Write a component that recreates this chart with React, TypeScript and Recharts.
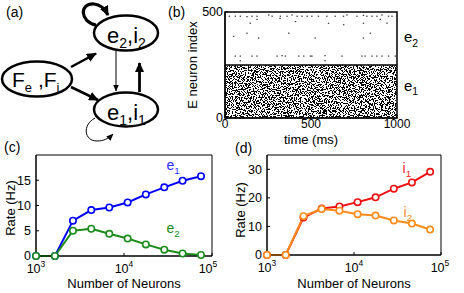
import { LineChart, Line, XAxis, YAxis, ScatterChart, Scatter, ReferenceArea, ReferenceLine } from "recharts";

// network size sweep (log x)
const NEURONS = [1000, 1640, 2630, 4250, 6800, 11000, 17700, 28700, 46300, 75000];
const RATE_E1 = [0, 0, 7.0, 9.1, 9.6, 10.6, 12.2, 13.6, 14.9, 15.8];
const RATE_E2 = [0, 0, 5.0, 5.4, 4.4, 3.45, 2.3, 1.25, 0.5, 0.2];
const RATE_I1 = [0, 0, 13.1, 16.3, 17.0, 18.5, 20.2, 23.2, 25.4, 29.1];
const RATE_I2 = [0, 0, 13.6, 16.1, 15.5, 14.3, 13.8, 12.1, 11.0, 8.9];
const LOG_TICKS = [1000, 10000, 100000];

// sparse spikes of the e2 population (time ms, neuron index)
const SPIKE_T = [
  25, 60, 89, 128, 157, 186, 254, 274, 322, 361, 390, 419, 448, 478, 505, 543, 592, 641, 689, 709,
  767, 805, 825, 854, 883, 913, 951, 971, 998,
  147, 186, 410, 128, 50, 196, 371, 602, 805, 903, 942, 845, 524, 805, 690, 320,
  60, 89, 157, 186, 303, 332, 351, 429, 458, 497, 505, 582, 680, 796, 815, 854, 883, 913, 951, 990,
  89, 582,
];
const SPIKE_N = [
  480, 480, 480, 478, 480, 480, 486, 480, 480, 480, 486, 480, 480, 480, 480, 480, 480, 480, 480, 486,
  480, 484, 480, 480, 480, 486, 480, 480, 480,
  447, 465, 455, 400, 385, 377, 400, 447, 447, 465, 447, 400, 377, 377, 440, 470,
  292, 292, 292, 292, 292, 294, 292, 292, 292, 292, 292, 294, 292, 292, 292, 292, 292, 292, 292, 292,
  270, 270,
];
const E1_TOP = 250;

const FONT = "'Liberation Sans', Arial, sans-serif";

const spikes = SPIKE_T.map((t, i) => ({ t, n: SPIKE_N[i] }));
const rowsC = NEURONS.map((n, i) => ({ n, e1: RATE_E1[i], e2: RATE_E2[i] }));
const rowsD = NEURONS.map((n, i) => ({ n, i1: RATE_I1[i], i2: RATE_I2[i] }));

function PowerTick(props: any) {
  const { x, y, payload } = props;
  const exp = Math.round(Math.log10(payload.value));
  return (
    <text x={x} y={y + 12} textAnchor="middle" fontSize={12.5} fill="#000" fontFamily={FONT}>
      <tspan>10</tspan>
      <tspan dy={-6} fontSize={8.5}>{exp}</tspan>
    </text>
  );
}

const SpikeDot = (p: any) => <rect x={p.cx - 0.7} y={p.cy - 0.6} width={1.4} height={1.2} fill="#333" />;
const NoiseRect = (p: any) => (
  <rect x={p.x} y={p.y} width={p.width} height={p.height} fill="#000" filter="url(#rasterNoise)" />
);

const dotStyle = (c: string) => ({ r: 3.2, stroke: c, strokeWidth: 1.6, fill: "#fff", clipDot: false });
const tickStyle = { fill: "#000", fontSize: 12.5, fontFamily: FONT };

function Sub({ x, y, base, sub, size, color = "#000" }: any) {
  return (
    <text x={x} y={y} fontSize={size} fill={color} fontFamily={FONT}>
      {base}
      <tspan dy={size * 0.3} fontSize={size * 0.7}>{sub}</tspan>
    </text>
  );
}

export default function App() {
  return (
    <div style={{ position: "absolute", left: 0, top: 0, width: 464, height: 293, background: "#fff", fontFamily: FONT }}>
      <svg width={0} height={0} style={{ position: "absolute" }}>
        <defs>
          <filter id="rasterNoise" x="0" y="0" width="1" height="1">
            <feTurbulence type="fractalNoise" baseFrequency="0.85" numOctaves={2} seed={7} />
            <feColorMatrix type="matrix" values="0 0 0 0 0  0 0 0 0 0  0 0 0 0 0  1 0 0 0 -0.02" />
            <feComponentTransfer>
              <feFuncA type="discrete" tableValues="0 1" />
            </feComponentTransfer>
          </filter>
        </defs>
      </svg>

      {/* (b) raster */}
      <div style={{ position: "absolute", left: 178, top: 0 }}>
        <ScatterChart width={244} height={150} margin={{ top: 12, right: 25, bottom: 0, left: 0 }}>
          <XAxis type="number" dataKey="t" domain={[0, 1000]} ticks={[0, 500, 1000]} height={32}
            tickSize={-3} tickMargin={4} stroke="#000" tick={{ ...tickStyle, fontSize: 12 }} />
          <YAxis type="number" dataKey="n" domain={[0, 500]} ticks={[0, 500]} width={47}
            tickSize={-3} tickMargin={5} stroke="#000" tick={tickStyle} />
          <ReferenceArea x1={0} x2={1000} y1={0} y2={E1_TOP} shape={NoiseRect} />
          <ReferenceLine y={E1_TOP} stroke="#000" strokeWidth={1.5} />
          <Scatter data={spikes} shape={SpikeDot} isAnimationActive={false} />
          <ReferenceArea x1={0} x2={1000} y1={0} y2={500} fill="none" stroke="#000" strokeWidth={1.5} />
        </ScatterChart>
      </div>

      {/* (c) excitatory rates */}
      <div style={{ position: "absolute", left: 0, top: 150 }}>
        <LineChart width={232} height={143} data={rowsC} margin={{ top: 5, right: 20, bottom: 0, left: 0 }}>
          <XAxis type="number" dataKey="n" scale="log" domain={[1000, 100000]} ticks={LOG_TICKS} height={37}
            tickSize={-3} tickMargin={8} stroke="#000" tick={<PowerTick />} />
          <YAxis domain={[0, 20]} ticks={[0, 5, 10, 15]} width={36} tickSize={-3} tickMargin={8}
            stroke="#000" tick={tickStyle} />
          <ReferenceArea x1={1000} x2={100000} y1={0} y2={20} fill="none" stroke="#000" strokeWidth={1} />
          <Line dataKey="e1" stroke="#0000ff" strokeWidth={2} dot={dotStyle("#0000ff")} isAnimationActive={false} />
          <Line dataKey="e2" stroke="#1a8c1a" strokeWidth={2} dot={dotStyle("#1a8c1a")} isAnimationActive={false} />
        </LineChart>
      </div>

      {/* (d) inhibitory rates */}
      <div style={{ position: "absolute", left: 232, top: 150 }}>
        <LineChart width={232} height={143} data={rowsD} margin={{ top: 5, right: 23, bottom: 0, left: 0 }}>
          <XAxis type="number" dataKey="n" scale="log" domain={[1000, 100000]} ticks={LOG_TICKS} height={38}
            tickSize={-3} tickMargin={8} stroke="#000" tick={<PowerTick />} />
          <YAxis domain={[0, 35]} ticks={[0, 10, 20, 30]} width={35} tickSize={-3} tickMargin={8}
            stroke="#000" tick={tickStyle} />
          <ReferenceArea x1={1000} x2={100000} y1={0} y2={35} fill="none" stroke="#000" strokeWidth={1} />
          <Line dataKey="i1" stroke="#ee1111" strokeWidth={2} dot={dotStyle("#ee1111")} isAnimationActive={false} />
          <Line dataKey="i2" stroke="#ff8c1a" strokeWidth={2} dot={dotStyle("#ff8c1a")} isAnimationActive={false} />
        </LineChart>
      </div>

      {/* (a) diagram, panel letters and titles */}
      <svg width={464} height={293} style={{ position: "absolute", left: 0, top: 0, pointerEvents: "none" }}>
        <defs>
          <marker id="headBig" markerUnits="userSpaceOnUse" markerWidth={10} markerHeight={9} refX={9} refY={4.5} orient="auto">
            <path d="M0,0 L10,4.5 L0,9 z" fill="#000" />
          </marker>
          <marker id="headSmall" markerUnits="userSpaceOnUse" markerWidth={7} markerHeight={6} refX={6.5} refY={3} orient="auto">
            <path d="M0,0 L7,3 L0,6 z" fill="#000" />
          </marker>
        </defs>
        <g fill="none" stroke="#000">
          <path d="M 96 25 C 80 22, 79 3, 94 4 C 100 4.5, 105 9, 108 15" strokeWidth={3.2} markerEnd="url(#headBig)" />
          <path d="M 95 118 C 82 125, 84 141, 97 141 C 103 141, 108 139, 113 134" strokeWidth={1} markerEnd="url(#headSmall)" />
          <line x1={71} x2={96} y1={67} y2={53.5} strokeWidth={2.5} markerEnd="url(#headBig)" />
          <line x1={71} x2={98} y1={87} y2={100} strokeWidth={2.5} markerEnd="url(#headBig)" />
          <line x1={116} x2={116} y1={50} y2={91} strokeWidth={1} markerEnd="url(#headSmall)" />
          <line x1={139.5} x2={139.5} y1={92} y2={63} strokeWidth={2.8} markerEnd="url(#headBig)" />
        </g>
        <g fill="#fff" stroke="#000" strokeWidth={2.5}>
          <ellipse cx={126} cy={33} rx={32} ry={17.5} />
          <ellipse cx={37} cy={79} rx={35} ry={17.5} />
          <ellipse cx={126} cy={109.5} rx={32} ry={17} />
        </g>
        <text x={107} y={43} fontSize={22} fontFamily={FONT}>
          e<tspan dy={5} fontSize={14}>2</tspan><tspan dy={-5}>,i</tspan><tspan dy={5} fontSize={14}>2</tspan>
        </text>
        <text x={107} y={120} fontSize={22} fontFamily={FONT}>
          e<tspan dy={5} fontSize={14}>1</tspan><tspan dy={-5}>,i</tspan><tspan dy={5} fontSize={14}>1</tspan>
        </text>
        <text x={12} y={87} fontSize={21} fontFamily={FONT}>
          F<tspan dy={5} fontSize={13}>e</tspan><tspan dy={-5}> ,F</tspan><tspan dy={5} fontSize={13}>i</tspan>
        </text>

        <g fontSize={14} fontFamily={FONT} fill="#000">
          <text x={6} y={17}>(a)</text>
          <text x={168} y={17}>(b)</text>
          <text x={4} y={152}>(c)</text>
          <text x={235} y={153}>(d)</text>
        </g>
        <g fontSize={13} fontFamily={FONT} fill="#000" textAnchor="middle">
          <text x={197} y={65} transform="rotate(-90 197 65)">E neuron index</text>
          <text x={311} y={144}>time (ms)</text>
          <text x={14.5} y={208} transform="rotate(-90 14.5 208)">Rate (Hz)</text>
          <text x={124} y={288}>Number of Neurons</text>
          <text x={245} y={210} transform="rotate(-90 245 210)">Rate (Hz)</text>
          <text x={354} y={288}>Number of Neurons</text>
        </g>
        <Sub x={404} y={42} base="e" sub="2" size={15} />
        <Sub x={404} y={90.5} base="e" sub="1" size={15} />
        <Sub x={166.5} y={170} base="e" sub="1" size={14} color="#2b2bff" />
        <Sub x={166.5} y={233} base="e" sub="2" size={14} color="#1a8c1a" />
        <Sub x={402.5} y={173} base="i" sub="1" size={14} color="#ee2222" />
        <Sub x={403.5} y={216.5} base="i" sub="2" size={14} color="#ff8c1a" />
      </svg>
    </div>
  );
}
